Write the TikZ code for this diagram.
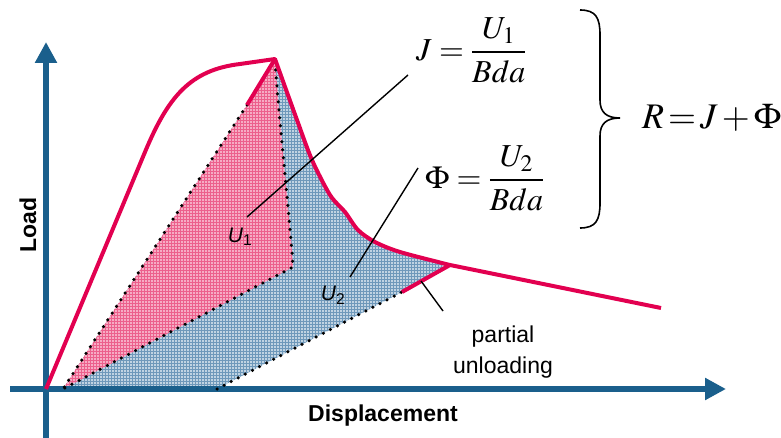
\documentclass[tikz,border=0pt]{standalone}
\usepackage{amsmath}
\usepackage{mathptmx}
\usepackage[no-math]{fontspec}
\setsansfont{Liberation Sans}
\usetikzlibrary{arrows.meta,patterns}
\definecolor{axisblue}{RGB}{26,95,140}
\definecolor{curvered}{RGB}{226,0,80}
\definecolor{pinkfill}{RGB}{246,172,196}
\definecolor{pinkgrid}{RGB}{236,96,140}
\definecolor{bluefill}{RGB}{192,211,226}
\definecolor{bluegrid}{RGB}{110,152,186}
\begin{document}
\begin{tikzpicture}[x=1pt,y=-1pt,
	axis/.style={axisblue,line width=6pt,-{Triangle[length=21pt,width=21pt]}},
	curve/.style={curvered,line width=4pt,line join=round},
	dots/.style={line width=3.5pt,line cap=round,dash pattern=on 0pt off 8pt},
	pointer/.style={line width=1.4pt},
	lbl/.style={font=\sffamily\bfseries\fontsize{23}{28}\selectfont},
	ulbl/.style={font=\sffamily\fontsize{21}{25}\selectfont,inner sep=0pt},
	eq/.style={font=\fontsize{32}{38}\selectfont,inner sep=0pt,anchor=west}]
	\useasboundingbox (0,0) rectangle (781,438);
	\path[fill=bluefill,postaction={pattern=grid,pattern color=bluegrid}] (63,389) -- (217,389) -- (402,292) -- (450,265)
		-- plot[smooth,tension=0.5] coordinates {(450,265) (400,252) (375,242) (358,230) (345,212) (330,195) (312,160) (297,120) (275,59)}
		-- (247,105) -- cycle;
	\path[fill=pinkfill,postaction={pattern=grid,pattern color=pinkgrid}] (63,389) -- (247,105) -- (275,59)
		.. controls (281,140) and (290,220) .. (293,267) -- cycle;
	\draw[axis] (46,438) -- (46,42);
	\draw[axis] (10,389) -- (726,389);
	\draw[dots] (247,105) -- (63,389);
	\draw[dots] (275,62) .. controls (281,140) and (290,220) .. (293,267) -- (63,389);
	\draw[dots] (217,389) -- (402,292);
	\draw[curve] (46,389) -- (145,152) .. controls (168,97) and (190,70) .. (240,64) -- (275,59)
		-- plot[smooth,tension=0.5] coordinates {(275,59) (297,120) (312,160) (330,195) (345,212) (358,230) (375,242) (400,252) (450,265)}
		-- (661,308);
	\draw[curve] (275,59) -- (247,105);
	\draw[curve] (450,265) -- (402,292);
	\node[lbl,rotate=90] (load) at (28,225) {Load};
	\node[lbl] (disp) at (383,416) {Displacement};
	\node[ulbl] (uone) at (240,237) {\itshape U\textsubscript{\upshape 1}};
	\node[ulbl] (utwo) at (333,295) {\itshape U\textsubscript{\upshape 2}};
	\node[font=\sffamily\fontsize{23}{31}\selectfont,align=center] (partial) at (503,352) {partial\\unloading};
	\node[eq] (jeq) at (416,50) {$J=\dfrac{U_1}{Bda}$};
	\node[eq] (phieq) at (425,178) {$\Phi=\dfrac{U_2}{Bda}$};
	\node[font=\fontsize{36}{42}\selectfont,inner sep=0pt,anchor=west] (req) at (642,118) {$R\,{=}\,J\,{+}\,\Phi$};
	\draw[line width=1.6pt] (580,10) .. controls (596,10) and (600,18) .. (600,35) -- (600,100)
		.. controls (600,112) and (606,118) .. (620,118) .. controls (606,118) and (600,124) .. (600,136)
		-- (600,203) .. controls (600,220) and (596,228) .. (580,228);
	\coordinate (a1) at (247,217);
	\coordinate (b1) at (408,75);
	\coordinate (a2) at (350,277);
	\coordinate (b2) at (418,168);
	\coordinate (a3) at (421,281);
	\coordinate (b3) at (443,311);
	\draw[pointer] (a1) -- (b1);
	\draw[pointer] (a2) -- (b2);
	\draw[pointer] (a3) -- (b3);
\end{tikzpicture}
\end{document}
